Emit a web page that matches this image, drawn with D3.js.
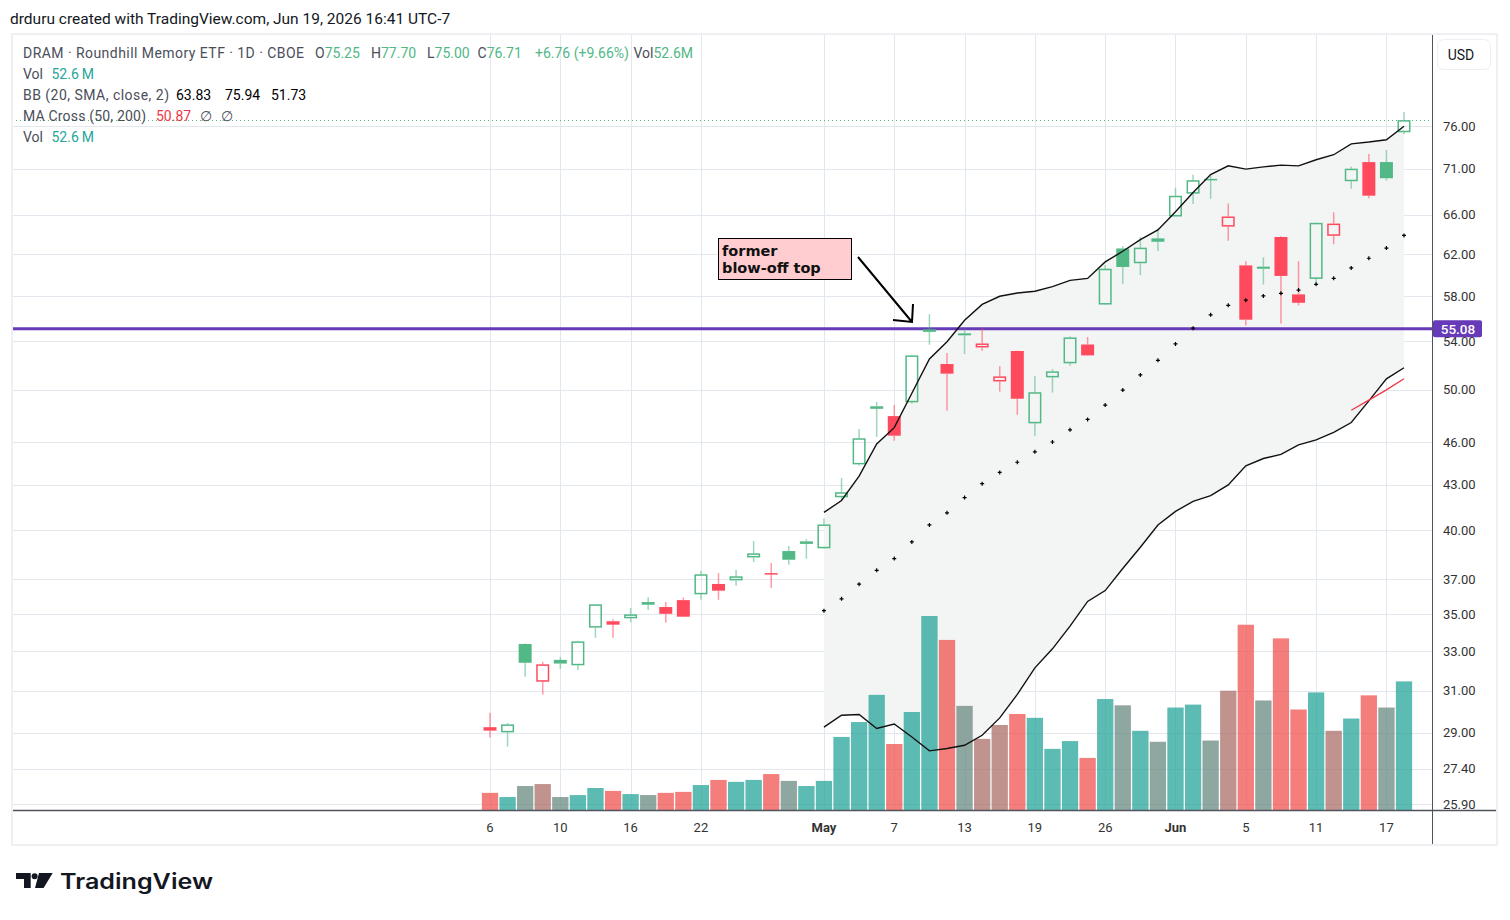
<!DOCTYPE html>
<html>
<head>
<meta charset="utf-8">
<script src="https://cdn.jsdelivr.net/npm/d3@7/dist/d3.min.js"></script>
<style>
  body { margin: 0; background: #fff; }
  svg { font-family: Roboto, "Liberation Sans", sans-serif; }
</style>
</head>
<body>
<div id="chart"></div>
<script>
// DRAM daily bars (Apr 6 - Jun 18, 2026)
var dates = [
  "2026-04-06","2026-04-07","2026-04-08","2026-04-09","2026-04-10","2026-04-13","2026-04-14","2026-04-15",
  "2026-04-16","2026-04-17","2026-04-20","2026-04-21","2026-04-22","2026-04-23","2026-04-24","2026-04-27",
  "2026-04-28","2026-04-29","2026-04-30","2026-05-01","2026-05-04","2026-05-05","2026-05-06","2026-05-07",
  "2026-05-08","2026-05-11","2026-05-12","2026-05-13","2026-05-14","2026-05-15","2026-05-18","2026-05-19",
  "2026-05-20","2026-05-21","2026-05-22","2026-05-26","2026-05-27","2026-05-28","2026-05-29","2026-06-01",
  "2026-06-02","2026-06-03","2026-06-04","2026-06-05","2026-06-08","2026-06-09","2026-06-10","2026-06-11",
  "2026-06-12","2026-06-15","2026-06-16","2026-06-17","2026-06-18"
];
var opens = [29.26,29.02,33.39,31.45,32.56,32.28,34.27,34.62,34.78,35.69,35.41,35.80,36.13,36.73,36.94,38.31,
  37.37,38.70,39.18,38.87,42.15,44.41,48.62,47.95,49.01,54.86,52.08,54.68,53.47,50.66,53.17,47.40,
  50.99,52.14,53.72,57.24,62.57,61.12,63.58,65.83,68.26,69.88,64.78,60.91,60.79,63.72,58.17,59.62,
  63.84,69.62,71.77,71.77,75.25];
var highs = [29.94,29.46,33.42,32.46,32.70,33.56,35.58,34.73,35.35,35.97,35.69,35.95,37.49,37.37,37.55,39.32,
  37.97,39.01,39.44,40.76,43.46,46.98,49.03,48.80,52.85,56.38,53.00,55.03,55.10,51.91,53.20,51.10,
  51.67,54.44,54.36,60.95,62.78,63.72,64.56,68.90,70.34,70.21,67.21,61.32,61.70,63.80,61.32,65.20,
  66.27,71.25,72.69,73.16,77.70];
var lows = [28.78,28.37,31.70,30.81,32.10,32.04,33.72,33.72,34.56,35.24,34.54,34.85,35.82,35.82,36.63,38.03,
  36.50,37.87,38.23,38.85,41.97,44.32,46.40,46.11,48.90,53.70,48.36,52.91,53.19,49.85,48.05,46.48,
  49.77,51.94,52.78,57.20,59.15,59.99,62.32,65.80,67.16,67.70,63.33,55.36,59.08,55.54,57.16,59.08,
  62.99,68.80,67.75,69.68,75.00];
var closes = [29.10,29.39,32.41,32.33,32.37,33.53,35.56,34.43,35.00,35.54,35.03,34.87,37.30,36.34,37.18,38.56,
  37.34,38.17,39.30,40.37,42.49,46.29,48.70,46.48,52.80,55.03,51.29,54.51,53.81,51.07,49.29,49.80,
  51.48,54.33,52.80,60.59,60.76,62.65,63.24,68.03,69.73,69.80,65.83,55.88,60.59,59.90,57.40,65.17,
  65.09,71.02,68.04,69.95,76.71];
// volume in millions of shares
var volumes = [7.0,5.3,9.8,10.6,5.3,6.1,9.0,7.8,6.5,6.1,7.0,7.4,10.2,12.3,11.5,12.3,
  14.7,11.9,9.8,11.9,29.9,36.0,47.1,27.0,40.1,79.4,69.6,42.6,29.1,34.8,39.3,37.7,
  25.0,28.2,21.3,45.4,42.8,32.4,27.9,41.9,43.1,28.4,48.8,75.8,44.8,70.2,41.1,48.1,
  32.4,37.4,46.9,41.9,52.6];

var priceTicks = [76, 71, 66, 62, 58, 54, 50, 46, 43, 40, 37, 35, 33, 31, 29, 27.4, 25.9];
var timeTickDates = ["2026-04-06","2026-04-10","2026-04-16","2026-04-22","2026-05-01","2026-05-07","2026-05-13",
  "2026-05-19","2026-05-26","2026-06-01","2026-06-05","2026-06-11","2026-06-17"];
var timeTickLabels = ["6","10","16","22","May","7","13","19","26","Jun","5","11","17"];
var levelPrice = 55.08;        // former blow-off top
var bbLegendValues = ["63.83", "75.94", "51.73"];
var maLegendValue = "50.87";
var volLegendValue = "52.6";

var BB_LEN = 20, MA_LEN = 50;

var GREEN = "#51b886", RED = "#ff4a5e";
var VOL_UP = "#26a69a", VOL_DOWN = "#ef5350";
var GRID = "#e2e8ee";

function drawChart() {

    var PANE = {left: 12, right: 1432, top: 34, bottom: 810};

    var svg = d3.select("#chart")
        .append("svg")
        .attr("width", 1510)
        .attr("height", 920);

    svg.append("rect").attr("width", 1510).attr("height", 920).attr("fill", "#fff");

    svg.append("clipPath").attr("id", "pane")
        .append("rect")
        .attr("x", PANE.left).attr("y", PANE.top)
        .attr("width", PANE.right - PANE.left).attr("height", PANE.bottom - PANE.top);

    var bars = dates.map(function(d, i) {
        return {date: d, o: opens[i], h: highs[i], l: lows[i], c: closes[i], v: volumes[i],
                prev: i > 0 ? closes[i - 1] : opens[i]};
    });

    // first bar centred at 490, last at 1404
    var step = (1404 - 490) / (dates.length - 1);
    var x = d3.scaleBand()
        .domain(dates)
        .range([490 - step / 2, 1404 + step / 2])
        .paddingInner(0);
    var xc = function(d) { return x(d) + x.bandwidth() / 2; };

    var y = d3.scaleLog().domain([25.9, 76]).range([804, 126]);
    var yVol = d3.scaleLinear().domain([0, d3.max(volumes)]).range([PANE.bottom, 616]);

    // Bollinger bands (20, SMA, 2 stdev) and the 50 day MA
    var bb = [];
    for (var i = BB_LEN - 1; i < closes.length; i++) {
        var win = closes.slice(i - BB_LEN + 1, i + 1);
        var m = d3.mean(win);
        var sd = Math.sqrt(d3.mean(win, function(v) { return (v - m) * (v - m); }));
        bb.push({date: dates[i], mid: m, up: m + 2 * sd, lo: m - 2 * sd});
    }
    var ma = [];
    for (var j = MA_LEN - 1; j < closes.length; j++) {
        ma.push({date: dates[j], v: d3.mean(closes.slice(j - MA_LEN + 1, j + 1))});
    }

    var plot = svg.append("g").attr("clip-path", "url(#pane)");

    // grid
    plot.selectAll("hgrid").data(priceTicks).enter().append("line")
        .attr("x1", PANE.left).attr("x2", PANE.right)
        .attr("y1", function(d) { return Math.round(y(d)) + 0.5; })
        .attr("y2", function(d) { return Math.round(y(d)) + 0.5; })
        .attr("stroke", GRID);
    plot.selectAll("vgrid").data(timeTickDates).enter().append("line")
        .attr("x1", function(d) { return Math.round(xc(d)) + 0.5; })
        .attr("x2", function(d) { return Math.round(xc(d)) + 0.5; })
        .attr("y1", PANE.top).attr("y2", PANE.bottom)
        .attr("stroke", GRID);

    // band fill
    plot.append("path").datum(bb)
        .attr("d", d3.area().x(function(d) { return xc(d.date); })
            .y0(function(d) { return y(d.lo); }).y1(function(d) { return y(d.up); }))
        .attr("fill", "#f3f5f4");

    // two volume overlays: one coloured by close vs open, one by close vs previous close
    var vw = step - 1.4;
    plot.selectAll("volA").data(bars).enter().append("rect")
        .attr("x", function(d) { return xc(d.date) - vw / 2; })
        .attr("width", vw)
        .attr("y", function(d) { return yVol(d.v); })
        .attr("height", function(d) { return PANE.bottom - yVol(d.v); })
        .attr("fill", function(d) { return d.c >= d.o ? VOL_UP : VOL_DOWN; })
        .attr("opacity", 0.5);
    plot.selectAll("volB").data(bars).enter().append("rect")
        .attr("x", function(d) { return xc(d.date) - vw / 2; })
        .attr("width", vw)
        .attr("y", function(d) { return yVol(d.v); })
        .attr("height", function(d) { return PANE.bottom - yVol(d.v); })
        .attr("fill", function(d) { return d.c >= d.prev ? VOL_UP : VOL_DOWN; })
        .attr("opacity", 0.5);

    // horizontal level
    plot.append("line")
        .attr("x1", PANE.left).attr("x2", PANE.right)
        .attr("y1", y(levelPrice)).attr("y2", y(levelPrice))
        .attr("stroke", "#673ab7").attr("stroke-width", 3);

    // last price line
    var last = bars[bars.length - 1];
    plot.append("line")
        .attr("x1", PANE.left).attr("x2", PANE.right)
        .attr("y1", Math.round(y(last.c)) + 0.5).attr("y2", Math.round(y(last.c)) + 0.5)
        .attr("stroke", GREEN).attr("stroke-dasharray", "1,3");

    // candles (hollow when close > open, red when close < previous close)
    var bw = 13;
    var candleColor = function(d) { return d.c >= d.prev ? GREEN : RED; };
    var candles = plot.selectAll("candle").data(bars).enter().append("g");
    candles.append("line")
        .attr("x1", function(d) { return xc(d.date); }).attr("x2", function(d) { return xc(d.date); })
        .attr("y1", function(d) { return y(d.h); })
        .attr("y2", function(d) { return y(Math.max(d.o, d.c)); })
        .attr("stroke", candleColor).attr("stroke-width", 1.5).attr("opacity", 0.55);
    candles.append("line")
        .attr("x1", function(d) { return xc(d.date); }).attr("x2", function(d) { return xc(d.date); })
        .attr("y1", function(d) { return y(Math.min(d.o, d.c)); })
        .attr("y2", function(d) { return y(d.l); })
        .attr("stroke", candleColor).attr("stroke-width", 1.5).attr("opacity", 0.55);
    candles.append("rect")
        .attr("x", function(d) { return xc(d.date) - bw / 2 + (d.c > d.o ? 0.75 : 0); })
        .attr("width", function(d) { return d.c > d.o ? bw - 1.5 : bw; })
        .attr("y", function(d) { return y(Math.max(d.o, d.c)) + (d.c > d.o ? 0.75 : 0); })
        .attr("height", function(d) {
            var h = y(Math.min(d.o, d.c)) - y(Math.max(d.o, d.c));
            return d.c > d.o ? Math.max(1, h - 1.5) : Math.max(1.5, h);
        })
        .attr("fill", function(d) { return d.c > d.o ? "none" : candleColor(d); })
        .attr("stroke", function(d) { return d.c > d.o ? candleColor(d) : "none"; })
        .attr("stroke-width", 1.5);

    // band lines, basis as crosses, MA 50
    var bandLine = function(key) {
        return d3.line().x(function(d) { return xc(d.date); }).y(function(d) { return y(d[key]); });
    };
    plot.append("path").datum(bb).attr("d", bandLine("up"))
        .attr("fill", "none").attr("stroke", "#111").attr("stroke-width", 1.4);
    plot.append("path").datum(bb).attr("d", bandLine("lo"))
        .attr("fill", "none").attr("stroke", "#111").attr("stroke-width", 1.4);
    plot.selectAll("basis").data(bb).enter().append("path")
        .attr("d", "M-2,0H2M0,-2V2")
        .attr("transform", function(d) { return "translate(" + xc(d.date) + "," + y(d.mid) + ")"; })
        .attr("stroke", "#000").attr("stroke-width", 1.2);
    plot.append("path").datum(ma)
        .attr("d", d3.line().x(function(d) { return xc(d.date); }).y(function(d) { return y(d.v); }))
        .attr("fill", "none").attr("stroke", "#f23645").attr("stroke-width", 1.3);

    // annotation
    svg.append("rect")
        .attr("x", 718.5).attr("y", 238.5).attr("width", 133).attr("height", 41)
        .attr("fill", "#ffcdd0").attr("stroke", "#000").attr("stroke-width", 1);
    var note = svg.append("text")
        .style("font-family", "'DejaVu Sans', sans-serif")
        .attr("font-size", 14.5).attr("font-weight", "bold").attr("fill", "#111");
    note.append("tspan").attr("x", 722).attr("y", 256).text("former");
    note.append("tspan").attr("x", 722).attr("y", 273).text("blow-off top");
    svg.append("path")
        .attr("d", "M858,257L912,322M913,304L912,322L893,320")
        .attr("fill", "none").attr("stroke", "#000").attr("stroke-width", 2);

    // axes
    svg.append("line").attr("x1", PANE.right + 0.5).attr("x2", PANE.right + 0.5)
        .attr("y1", PANE.top).attr("y2", 845).attr("stroke", "#50535e");
    svg.append("line").attr("x1", PANE.left).attr("x2", 1497)
        .attr("y1", PANE.bottom + 0.5).attr("y2", PANE.bottom + 0.5)
        .attr("stroke", "#50535e").attr("stroke-width", 1.5);

    svg.selectAll("ytick").data(priceTicks).enter().append("text")
        .attr("x", 1443).attr("y", function(d) { return y(d) + 4.5; })
        .attr("font-size", 13).attr("fill", "#333")
        .text(d3.format(".2f"));

    svg.selectAll("xtick").data(timeTickDates).enter().append("text")
        .attr("x", function(d) { return xc(d); }).attr("y", 832)
        .attr("text-anchor", "middle").attr("font-size", 13)
        .attr("font-weight", function(d, i) { return isNaN(+timeTickLabels[i]) ? "bold" : "normal"; })
        .attr("fill", "#333")
        .text(function(d, i) { return timeTickLabels[i]; });

    // level label sits on top of the 54.00 tick, as in the snapshot
    svg.append("rect")
        .attr("x", 1433).attr("y", y(levelPrice) - 8.5).attr("width", 49).attr("height", 17)
        .attr("rx", 2).attr("fill", "#673ab7");
    svg.append("text")
        .attr("x", 1458).attr("y", y(levelPrice) + 5)
        .attr("text-anchor", "middle").attr("font-size", 13.5).attr("font-weight", 500)
        .attr("fill", "#fff").text(d3.format(".2f")(levelPrice));

    svg.append("rect")
        .attr("x", 1437.5).attr("y", 39.5).attr("width", 53).attr("height", 30).attr("rx", 6)
        .attr("fill", "#fff").attr("stroke", "#eceff3");
    svg.append("text").attr("x", 1461).attr("y", 59.5).attr("text-anchor", "middle")
        .attr("font-size", 14).attr("fill", "#131722").text("USD");

    // frame round the snapshot
    svg.append("rect")
        .attr("x", 12).attr("y", 34).attr("width", 1485).attr("height", 811)
        .attr("fill", "none").attr("stroke", "#eef0f3").attr("stroke-width", 2);

    // header and legend
    svg.append("text").attr("x", 10).attr("y", 24)
        .attr("font-size", 15.5).attr("fill", "#131722")
        .text("drduru created with TradingView.com, Jun 19, 2026 16:41 UTC-7");

    var f2 = d3.format(".2f");
    var LABEL = "#4a4e59";
    var legendPiece = function(xp, yp, parts, len) {
        var t = svg.append("text").attr("x", xp).attr("y", yp).attr("font-size", 14);
        if (len) t.attr("textLength", len).attr("lengthAdjust", "spacing");
        parts.forEach(function(p) { t.append("tspan").attr("fill", p[1]).text(p[0]); });
    };
    var chg = last.c - last.prev;
    legendPiece(23, 58, [["DRAM \u00b7 Roundhill Memory ETF \u00b7 1D \u00b7 CBOE", LABEL]], 281);
    legendPiece(315, 58, [["O", LABEL], [f2(last.o), GREEN]]);
    legendPiece(371, 58, [["H", LABEL], [f2(last.h), GREEN]]);
    legendPiece(427, 58, [["L", LABEL], [f2(last.l), GREEN]]);
    legendPiece(477.5, 58, [["C", LABEL], [f2(last.c), GREEN]]);
    legendPiece(535, 58, [["+" + f2(chg) + " (+" + f2(chg / last.prev * 100) + "%)", GREEN]]);
    legendPiece(633.5, 58, [["Vol", LABEL], [volLegendValue + "M", GREEN]]);

    legendPiece(23, 79, [["Vol", LABEL]]);
    legendPiece(51.5, 79, [[volLegendValue + "\u2009M", VOL_UP]]);

    legendPiece(23, 100, [["BB (20, SMA, close, 2)", LABEL]], 146);
    legendPiece(176, 100, [[bbLegendValues[0], "#000"]]);
    legendPiece(225, 100, [[bbLegendValues[1], "#000"]]);
    legendPiece(271, 100, [[bbLegendValues[2], "#000"]]);

    legendPiece(23, 121, [["MA Cross (50, 200)", LABEL]], 123);
    legendPiece(156, 121, [[maLegendValue, "#f23645"]]);
    legendPiece(200, 121, [["\u2205", LABEL]]);
    legendPiece(221, 121, [["\u2205", LABEL]]);

    legendPiece(23, 142, [["Vol", LABEL]]);
    legendPiece(51.5, 142, [[volLegendValue + "\u2009M", VOL_UP]]);

    // TradingView logo
    var logo = svg.append("g").attr("fill", "#131722");
    logo.append("path").attr("d", "M16,873H30.7V888H24V879H16Z");
    logo.append("circle").attr("cx", 34.6).attr("cy", 876.3).attr("r", 3);
    logo.append("path").attr("d", "M39,873H52.7L43.6,888H35Z");
    logo.append("text").attr("x", 60).attr("y", 889)
        .style("font-family", "Inter, 'DejaVu Sans', sans-serif")
        .attr("font-size", 21).attr("font-weight", 600)
        .attr("textLength", 153).attr("lengthAdjust", "spacingAndGlyphs")
        .text("TradingView");
}

drawChart();
</script>
</body>
</html>
